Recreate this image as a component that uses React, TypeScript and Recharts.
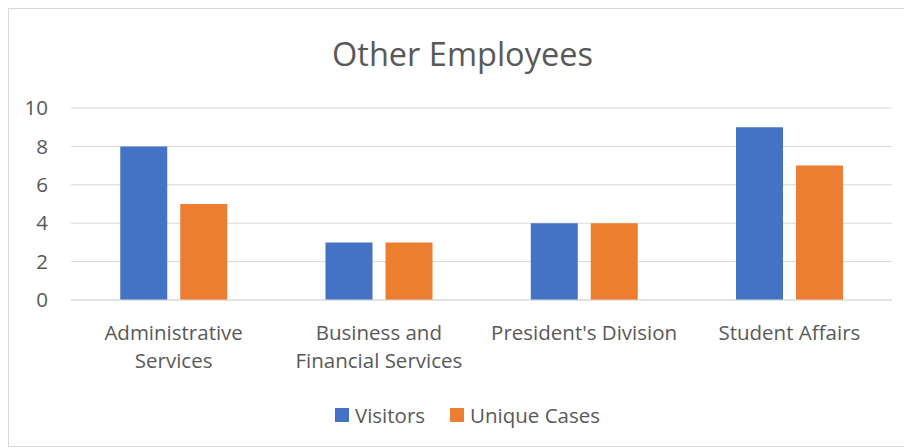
import { BarChart, Bar, XAxis, YAxis, CartesianGrid, Legend } from "recharts";

const categories = [
  "Administrative\nServices",
  "Business and\nFinancial Services",
  "President's Division",
  "Student Affairs",
];
const visitors = [8, 3, 4, 9];
const uniqueCases = [5, 3, 4, 7];
const yTicks = [0, 2, 4, 6, 8, 10];
const seriesOrder = ["visitors", "unique"];

const data = categories.map((name, i) => ({
  name,
  visitors: visitors[i],
  unique: uniqueCases[i],
}));

const FONT = "'Open Sans', 'Noto Sans', sans-serif";
const TEXT = "#595959";
const FS = 20.5;

function CategoryTick(props: any) {
  const { x, y, payload } = props;
  const lines = String(payload.value).split("\n");
  return (
    <text x={x} y={y} textAnchor="middle" fill={TEXT} fontSize={FS} fontFamily={FONT}>
      {lines.map((l, i) => (
        <tspan key={i} x={x} dy={i === 0 ? 32 : 28}>
          {l}
        </tspan>
      ))}
    </text>
  );
}

function LegendBox(props: any) {
  const items = [...(props.payload || [])].sort(
    (a: any, b: any) => seriesOrder.indexOf(a.dataKey) - seriesOrder.indexOf(b.dataKey)
  );
  return (
    <div
      style={{
        height: 28,
        display: "flex",
        justifyContent: "center",
        alignItems: "center",
        fontFamily: FONT,
        fontSize: FS,
        color: TEXT,
        paddingLeft: 34,
      }}
    >
      {items.map((it: any, i: number) => (
        <div key={i} style={{ display: "flex", alignItems: "center", marginLeft: i ? 25 : 0 }}>
          <span style={{ width: 14, height: 14, background: it.color, display: "inline-block", marginRight: 6 }} />
          <span>{it.value}</span>
        </div>
      ))}
    </div>
  );
}

export default function App() {
  return (
    <div
      style={{
        position: "relative",
        width: 903,
        height: 439,
        border: "1px solid #d9d9d9",
        boxSizing: "border-box",
        background: "#fff",
      }}
    >
      <div
        style={{
          position: "absolute",
          top: 25,
          left: 3,
          width: "100%",
          textAlign: "center",
          fontFamily: FONT,
          fontSize: 32.5,
          color: TEXT,
          lineHeight: "40px",
        }}
      >
        Other Employees
      </div>
      <BarChart
        width={901}
        height={437}
        data={data}
        margin={{ top: 99, right: 18, bottom: 17, left: 0 }}
        barCategoryGap="24%"
        barGap={13}
      >
        <CartesianGrid vertical={false} stroke="#d9d9d9" />
        <XAxis
          dataKey="name"
          axisLine={{ stroke: "#d9d9d9" }}
          tickLine={false}
          height={101}
          interval={0}
          tick={<CategoryTick />}
        />
        <YAxis
          domain={[0, 10]}
          ticks={yTicks}
          width={62}
          axisLine={false}
          tickLine={false}
          tickSize={0}
          tickMargin={23}
          tick={{ fill: TEXT, fontSize: FS, fontFamily: FONT }}
        />
        <Legend verticalAlign="bottom" content={<LegendBox />} />
        <Bar dataKey="visitors" name="Visitors" fill="#4472c4" isAnimationActive={false} />
        <Bar dataKey="unique" name="Unique Cases" fill="#ed7d31" isAnimationActive={false} />
      </BarChart>
    </div>
  );
}
